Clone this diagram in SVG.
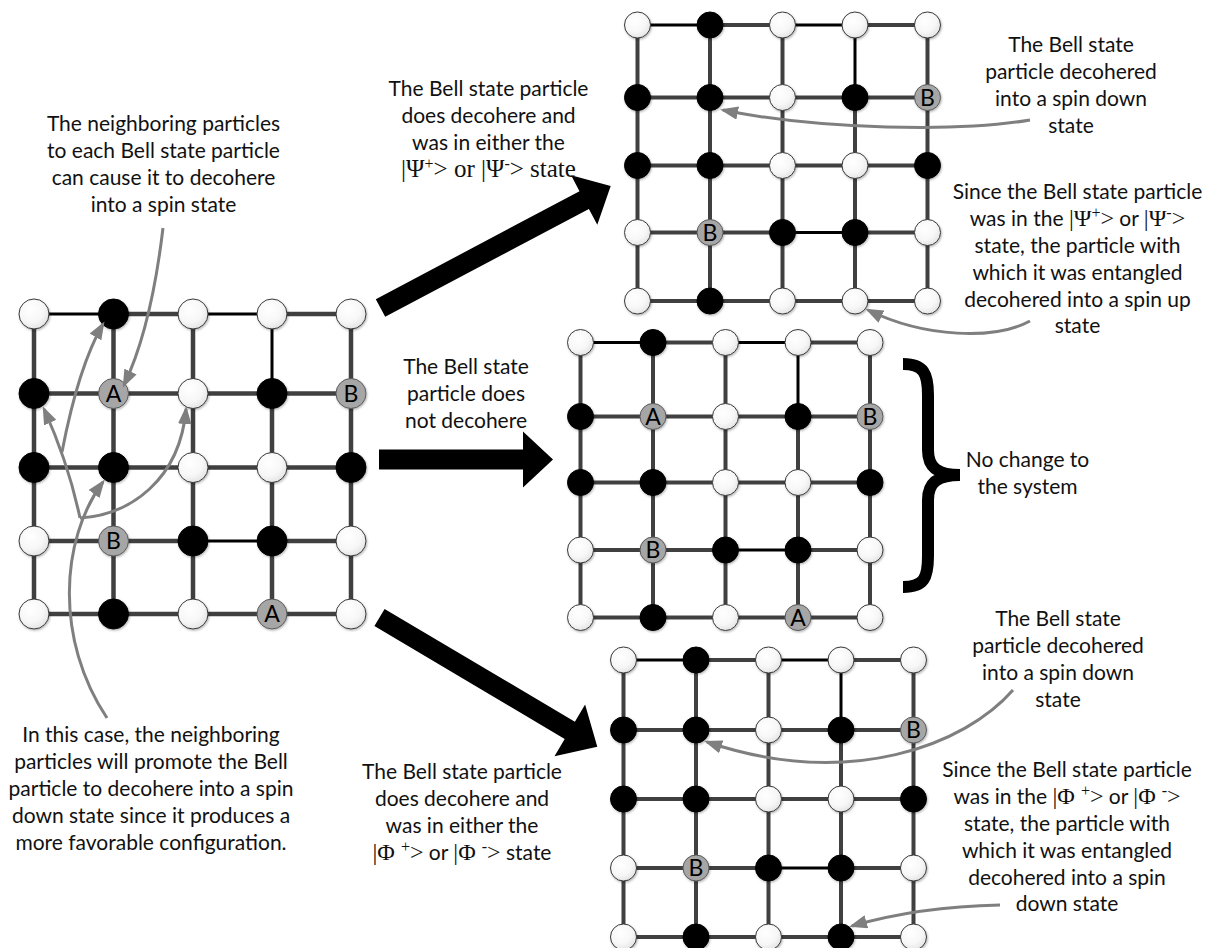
<svg xmlns="http://www.w3.org/2000/svg" width="1208" height="948" viewBox="0 0 1208 948">
<defs>
<radialGradient id="gw" cx="0.4" cy="0.35" r="0.7">
<stop offset="0" stop-color="#ffffff"/>
<stop offset="0.6" stop-color="#f7f7f7"/>
<stop offset="1" stop-color="#e2e2e2"/>
</radialGradient>
<filter id="sh" x="-30%" y="-30%" width="160%" height="160%">
<feDropShadow dx="0.8" dy="1.2" stdDeviation="1" flood-color="#000" flood-opacity="0.3"/>
</filter>
<marker id="ah" viewBox="0 0 18 13.5" refX="15" refY="6.75" markerWidth="18" markerHeight="13.5" markerUnits="userSpaceOnUse" orient="auto">
<path d="M0,0 L18,6.75 L0,13.5 z" fill="#7f7f7f"/>
</marker>
<style>
.w{fill:url(#gw);stroke:#3a3a3a;stroke-width:1;filter:url(#sh)}
.k{fill:#000;stroke:#000;stroke-width:1;filter:url(#sh)}
.g{fill:#a6a6a6;stroke:#5a5a5a;stroke-width:1;filter:url(#sh)}
.lt{font-family:Lato,"Open Sans",sans-serif;font-size:23px;fill:#000;text-anchor:middle}
.ge{fill:none;stroke:#404040;stroke-width:4}
.ge.big{stroke-width:4.5}
.be{fill:none;stroke:#000;stroke-width:3}
.big-arrow{fill:#000}
.ann{fill:none;stroke:#7f7f7f;stroke-width:3;marker-end:url(#ah)}
.tx{font-family:Lato,"Open Sans",sans-serif;font-size:21px;fill:#111;text-anchor:middle}
.sf{font-family:"Liberation Serif","DejaVu Serif",serif;font-size:24px}
.sfl{font-family:"Liberation Serif","DejaVu Serif",serif;font-size:25px}
.sup{font-size:16px}
</style>
</defs>
<rect width="1208" height="948" fill="#fff"/>

<g id="connectors">
<path class="ge big" d="M113.5,314H193M272,314H351M34,393.5H351M34,467.5H351M34,541H193M272,541H351M34,614H351M34,314V614M113.5,314V614M193,314V614M272,393.5V614M351,314V614"/>
<path class="be" d="M34,314H113.5M193,314H272M272,314V393.5M193,541H272"/>
<path class="ge" d="M710,25H782.5M855,25H927.5M637.5,97.5H927.5M637.5,165.5H927.5M637.5,232.5H782.5M855,232.5H927.5M637.5,301H927.5M637.5,25V301M710,25V301M782.5,25V301M855,97.5V301M927.5,25V301"/>
<path class="be" d="M637.5,25H710M782.5,25H855M855,25V97.5M782.5,232.5H855"/>
<path class="ge" d="M653,342.5H725.5M798,342.5H870M580.5,416.5H870M580.5,482.5H870M580.5,550H725.5M798,550H870M580.5,617.5H870M580.5,342.5V617.5M653,342.5V617.5M725.5,342.5V617.5M798,416.5V617.5M870,342.5V617.5"/>
<path class="be" d="M580.5,342.5H653M725.5,342.5H798M798,342.5V416.5M725.5,550H798"/>
<path class="ge" d="M696,660H768.5M841,660H913.5M623.5,730H913.5M623.5,799H913.5M623.5,868H768.5M841,868H913.5M623.5,937H913.5M623.5,660V937M696,660V937M768.5,660V937M841,730V937M913.5,660V937"/>
<path class="be" d="M623.5,660H696M768.5,660H841M841,660V730M768.5,868H841"/>
<polygon class="big-arrow" points="375.8,299.2 579.5,191.2 571.1,175.3 610.7,186 597.3,224.8 588.9,208.9 385.2,316.8"/>
<polygon class="big-arrow" points="379,449.5 523,449.5 523,431.5 553,459.5 523,487.5 523,469.5 379,469.5"/>
<polygon class="big-arrow" points="384.6,608.9 574.9,721.8 585.1,704.6 597.3,746.7 554.5,756.2 564.7,739 374.4,626.1"/>
</g>

<g id="nodes-left">
<g id="L00"><circle class="w" cx="34" cy="314" r="15"/></g>
<g id="L01"><circle class="k" cx="113.5" cy="314" r="15"/></g>
<g id="L02"><circle class="w" cx="193" cy="314" r="15"/></g>
<g id="L03"><circle class="w" cx="272" cy="314" r="15"/></g>
<g id="L04"><circle class="w" cx="351" cy="314" r="15"/></g>
<g id="L10"><circle class="k" cx="34" cy="393.5" r="15"/></g>
<g id="L11"><circle class="g" cx="113.5" cy="393.5" r="15"/><text class="lt" x="113.5" y="401.5">A</text></g>
<g id="L12"><circle class="w" cx="193" cy="393.5" r="15"/></g>
<g id="L13"><circle class="k" cx="272" cy="393.5" r="15"/></g>
<g id="L14"><circle class="g" cx="351" cy="393.5" r="15"/><text class="lt" x="351" y="401.5">B</text></g>
<g id="L20"><circle class="k" cx="34" cy="467.5" r="15"/></g>
<g id="L21"><circle class="k" cx="113.5" cy="467.5" r="15"/></g>
<g id="L22"><circle class="w" cx="193" cy="467.5" r="15"/></g>
<g id="L23"><circle class="w" cx="272" cy="467.5" r="15"/></g>
<g id="L24"><circle class="k" cx="351" cy="467.5" r="15"/></g>
<g id="L30"><circle class="w" cx="34" cy="541" r="15"/></g>
<g id="L31"><circle class="g" cx="113.5" cy="541" r="15"/><text class="lt" x="113.5" y="549">B</text></g>
<g id="L32"><circle class="k" cx="193" cy="541" r="15"/></g>
<g id="L33"><circle class="k" cx="272" cy="541" r="15"/></g>
<g id="L34"><circle class="w" cx="351" cy="541" r="15"/></g>
<g id="L40"><circle class="w" cx="34" cy="614" r="15"/></g>
<g id="L41"><circle class="k" cx="113.5" cy="614" r="15"/></g>
<g id="L42"><circle class="w" cx="193" cy="614" r="15"/></g>
<g id="L43"><circle class="g" cx="272" cy="614" r="15"/><text class="lt" x="272" y="622">A</text></g>
<g id="L44"><circle class="w" cx="351" cy="614" r="15"/></g>
</g>

<g id="nodes-top">
<g id="T00"><circle class="w" cx="637.5" cy="25" r="13"/></g>
<g id="T01"><circle class="k" cx="710" cy="25" r="13"/></g>
<g id="T02"><circle class="w" cx="782.5" cy="25" r="13"/></g>
<g id="T03"><circle class="w" cx="855" cy="25" r="13"/></g>
<g id="T04"><circle class="w" cx="927.5" cy="25" r="13"/></g>
<g id="T10"><circle class="k" cx="637.5" cy="97.5" r="13"/></g>
<g id="T11"><circle class="k" cx="710" cy="97.5" r="13"/></g>
<g id="T12"><circle class="w" cx="782.5" cy="97.5" r="13"/></g>
<g id="T13"><circle class="k" cx="855" cy="97.5" r="13"/></g>
<g id="T14"><circle class="g" cx="927.5" cy="97.5" r="13"/><text class="lt" x="927.5" y="105.5">B</text></g>
<g id="T20"><circle class="k" cx="637.5" cy="165.5" r="13"/></g>
<g id="T21"><circle class="k" cx="710" cy="165.5" r="13"/></g>
<g id="T22"><circle class="w" cx="782.5" cy="165.5" r="13"/></g>
<g id="T23"><circle class="w" cx="855" cy="165.5" r="13"/></g>
<g id="T24"><circle class="k" cx="927.5" cy="165.5" r="13"/></g>
<g id="T30"><circle class="w" cx="637.5" cy="232.5" r="13"/></g>
<g id="T31"><circle class="g" cx="710" cy="232.5" r="13"/><text class="lt" x="710" y="240.5">B</text></g>
<g id="T32"><circle class="k" cx="782.5" cy="232.5" r="13"/></g>
<g id="T33"><circle class="k" cx="855" cy="232.5" r="13"/></g>
<g id="T34"><circle class="w" cx="927.5" cy="232.5" r="13"/></g>
<g id="T40"><circle class="w" cx="637.5" cy="301" r="13"/></g>
<g id="T41"><circle class="k" cx="710" cy="301" r="13"/></g>
<g id="T42"><circle class="w" cx="782.5" cy="301" r="13"/></g>
<g id="T43"><circle class="w" cx="855" cy="301" r="13"/></g>
<g id="T44"><circle class="w" cx="927.5" cy="301" r="13"/></g>
</g>

<g id="nodes-middle">
<g id="M00"><circle class="w" cx="580.5" cy="342.5" r="13"/></g>
<g id="M01"><circle class="k" cx="653" cy="342.5" r="13"/></g>
<g id="M02"><circle class="w" cx="725.5" cy="342.5" r="13"/></g>
<g id="M03"><circle class="w" cx="798" cy="342.5" r="13"/></g>
<g id="M04"><circle class="w" cx="870" cy="342.5" r="13"/></g>
<g id="M10"><circle class="k" cx="580.5" cy="416.5" r="13"/></g>
<g id="M11"><circle class="g" cx="653" cy="416.5" r="13"/><text class="lt" x="653" y="424.5">A</text></g>
<g id="M12"><circle class="w" cx="725.5" cy="416.5" r="13"/></g>
<g id="M13"><circle class="k" cx="798" cy="416.5" r="13"/></g>
<g id="M14"><circle class="g" cx="870" cy="416.5" r="13"/><text class="lt" x="870" y="424.5">B</text></g>
<g id="M20"><circle class="k" cx="580.5" cy="482.5" r="13"/></g>
<g id="M21"><circle class="k" cx="653" cy="482.5" r="13"/></g>
<g id="M22"><circle class="w" cx="725.5" cy="482.5" r="13"/></g>
<g id="M23"><circle class="w" cx="798" cy="482.5" r="13"/></g>
<g id="M24"><circle class="k" cx="870" cy="482.5" r="13"/></g>
<g id="M30"><circle class="w" cx="580.5" cy="550" r="13"/></g>
<g id="M31"><circle class="g" cx="653" cy="550" r="13"/><text class="lt" x="653" y="558">B</text></g>
<g id="M32"><circle class="k" cx="725.5" cy="550" r="13"/></g>
<g id="M33"><circle class="k" cx="798" cy="550" r="13"/></g>
<g id="M34"><circle class="w" cx="870" cy="550" r="13"/></g>
<g id="M40"><circle class="w" cx="580.5" cy="617.5" r="13"/></g>
<g id="M41"><circle class="k" cx="653" cy="617.5" r="13"/></g>
<g id="M42"><circle class="w" cx="725.5" cy="617.5" r="13"/></g>
<g id="M43"><circle class="g" cx="798" cy="617.5" r="13"/><text class="lt" x="798" y="625.5">A</text></g>
<g id="M44"><circle class="w" cx="870" cy="617.5" r="13"/></g>
</g>

<g id="nodes-bottom">
<g id="B00"><circle class="w" cx="623.5" cy="660" r="13"/></g>
<g id="B01"><circle class="k" cx="696" cy="660" r="13"/></g>
<g id="B02"><circle class="w" cx="768.5" cy="660" r="13"/></g>
<g id="B03"><circle class="w" cx="841" cy="660" r="13"/></g>
<g id="B04"><circle class="w" cx="913.5" cy="660" r="13"/></g>
<g id="B10"><circle class="k" cx="623.5" cy="730" r="13"/></g>
<g id="B11"><circle class="k" cx="696" cy="730" r="13"/></g>
<g id="B12"><circle class="w" cx="768.5" cy="730" r="13"/></g>
<g id="B13"><circle class="k" cx="841" cy="730" r="13"/></g>
<g id="B14"><circle class="g" cx="913.5" cy="730" r="13"/><text class="lt" x="913.5" y="738">B</text></g>
<g id="B20"><circle class="k" cx="623.5" cy="799" r="13"/></g>
<g id="B21"><circle class="k" cx="696" cy="799" r="13"/></g>
<g id="B22"><circle class="w" cx="768.5" cy="799" r="13"/></g>
<g id="B23"><circle class="w" cx="841" cy="799" r="13"/></g>
<g id="B24"><circle class="k" cx="913.5" cy="799" r="13"/></g>
<g id="B30"><circle class="w" cx="623.5" cy="868" r="13"/></g>
<g id="B31"><circle class="g" cx="696" cy="868" r="13"/><text class="lt" x="696" y="876">B</text></g>
<g id="B32"><circle class="k" cx="768.5" cy="868" r="13"/></g>
<g id="B33"><circle class="k" cx="841" cy="868" r="13"/></g>
<g id="B34"><circle class="w" cx="913.5" cy="868" r="13"/></g>
<g id="B40"><circle class="w" cx="623.5" cy="937" r="13"/></g>
<g id="B41"><circle class="k" cx="696" cy="937" r="13"/></g>
<g id="B42"><circle class="w" cx="768.5" cy="937" r="13"/></g>
<g id="B43"><circle class="k" cx="841" cy="937" r="13"/></g>
<g id="B44"><circle class="w" cx="913.5" cy="937" r="13"/></g>
</g>

<g id="annotation-arrows">
<path class="ann" d="M163,228 C158,270 148,335 124,385"/>
<path class="ann" d="M107,718 C55,640 60,540 103,482"/>
<path class="ann" d="M80,518 C130,515 180,480 186,409"/>
<path class="ann" d="M80,518 C72,480 58,440 44,409"/>
<path class="ann" d="M62,452 C72,400 85,355 103,324"/>
<path class="ann" d="M1030,120 C960,132 820,130 723,110"/>
<path class="ann" d="M1030,321 C995,340 925,338 868,310"/>
<path class="ann" d="M1013,690 C965,745 850,790 707,742"/>
<path class="ann" d="M1000,905 C950,906 900,912 852,926"/>
</g>

<g id="brace">
<path d="M903,364 C924,364 928,374 928,395 L928,450 C928,468 938,475 960,475 C938,475 928,482 928,500 L928,556 C928,578 924,587 903,587" fill="none" stroke="#000" stroke-width="12"/>
</g>

<g id="labels">
<text class="tx"><tspan x="163.5" y="131">The neighboring particles</tspan><tspan x="163.5" y="158">to each Bell state particle</tspan><tspan x="163.5" y="185">can cause it to decohere</tspan><tspan x="163.5" y="212">into a spin state</tspan></text>

<text class="tx"><tspan x="488.5" y="96">The Bell state particle</tspan><tspan x="488.5" y="123">does decohere and</tspan><tspan x="488.5" y="150">was in either the</tspan></text>
<text class="tx sfl" x="488.5" y="177">|Ψ<tspan class="sup" dy="-8">+</tspan><tspan dy="8">&gt; or |Ψ</tspan><tspan class="sup" dy="-8">-</tspan><tspan dy="8">&gt; state</tspan></text>

<text class="tx"><tspan x="1071" y="51.5">The Bell state</tspan><tspan x="1071" y="78.5">particle decohered</tspan><tspan x="1071" y="105.5">into a spin down</tspan><tspan x="1071" y="132.5">state</tspan></text>

<text class="tx"><tspan x="1077.5" y="198.5">Since the Bell state particle</tspan></text>
<text class="tx" x="1077.5" y="225.5">was in the <tspan class="sf">|Ψ</tspan><tspan class="sf sup" dy="-8">+</tspan><tspan class="sf" dy="8">&gt;</tspan> or <tspan class="sf">|Ψ</tspan><tspan class="sf sup" dy="-8">-</tspan><tspan class="sf" dy="8">&gt;</tspan></text>
<text class="tx"><tspan x="1077.5" y="252.5">state, the particle with</tspan><tspan x="1077.5" y="279.5">which it was entangled</tspan><tspan x="1077.5" y="306.5">decohered into a spin up</tspan><tspan x="1077.5" y="333">state</tspan></text>

<text class="tx"><tspan x="466" y="374">The Bell state</tspan><tspan x="466" y="401">particle does</tspan><tspan x="466" y="428">not decohere</tspan></text>

<text class="tx"><tspan x="1027.5" y="467">No change to</tspan><tspan x="1027.5" y="494">the system</tspan></text>

<text class="tx"><tspan x="151" y="742">In this case, the neighboring</tspan><tspan x="151" y="769">particles will promote the Bell</tspan><tspan x="151" y="796">particle to decohere into a spin</tspan><tspan x="151" y="823">down state since it produces a</tspan><tspan x="151" y="850">more favorable configuration.</tspan></text>

<text class="tx"><tspan x="462" y="779">The Bell state particle</tspan><tspan x="462" y="806">does decohere and</tspan><tspan x="462" y="833">was in either the</tspan></text>
<text class="tx" x="462" y="860"><tspan class="sf">|Φ </tspan><tspan class="sf sup" dy="-8">+</tspan><tspan class="sf" dy="8">&gt;</tspan> or <tspan class="sf">|Φ </tspan><tspan class="sf sup" dy="-8">-</tspan><tspan class="sf" dy="8">&gt;</tspan> state</text>

<text class="tx"><tspan x="1058" y="626">The Bell state</tspan><tspan x="1058" y="653">particle decohered</tspan><tspan x="1058" y="680">into a spin down</tspan><tspan x="1058" y="707">state</tspan></text>

<text class="tx"><tspan x="1067" y="777">Since the Bell state particle</tspan></text>
<text class="tx" x="1067" y="804">was in the <tspan class="sf">|Φ </tspan><tspan class="sf sup" dy="-8">+</tspan><tspan class="sf" dy="8">&gt;</tspan> or <tspan class="sf">|Φ </tspan><tspan class="sf sup" dy="-8">-</tspan><tspan class="sf" dy="8">&gt;</tspan></text>
<text class="tx"><tspan x="1067" y="831">state, the particle with</tspan><tspan x="1067" y="858">which it was entangled</tspan><tspan x="1067" y="885">decohered into a spin</tspan><tspan x="1067" y="911">down state</tspan></text>
</g>
</svg>
